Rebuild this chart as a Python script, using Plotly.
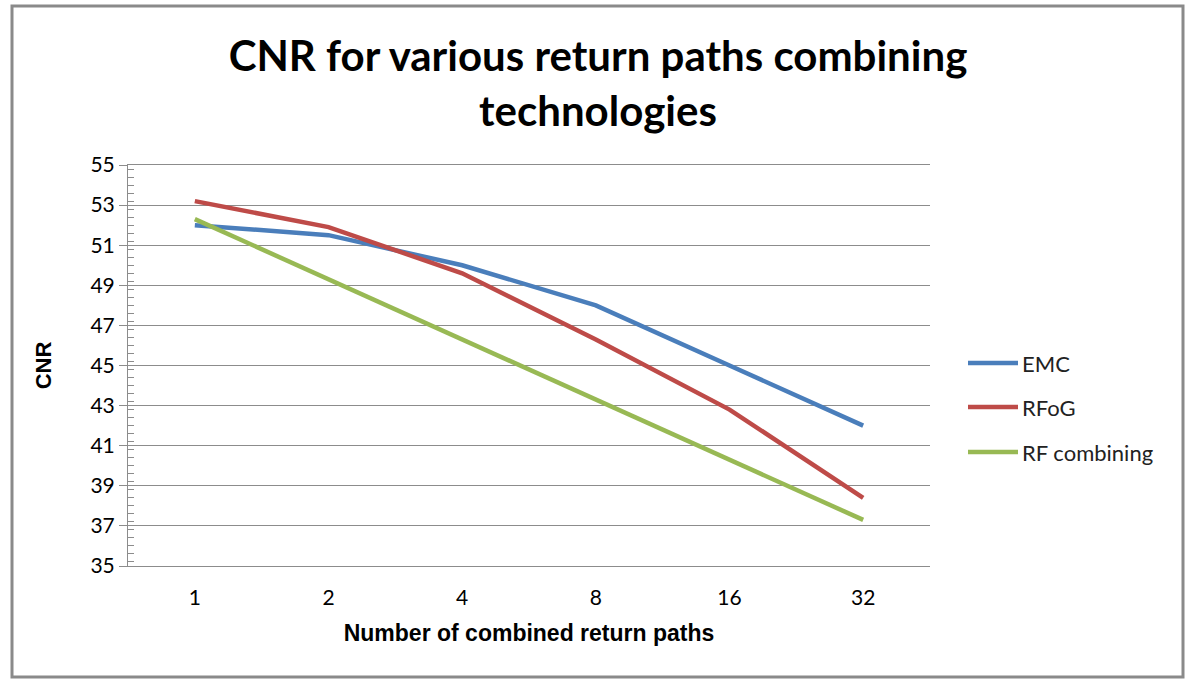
import plotly.graph_objects as go

categories = ["1", "2", "4", "8", "16", "32"]
emc = [52.0, 51.5, 50.0, 48.0, 45.0, 42.0]
rfog = [53.2, 51.9, 49.6, 46.3, 42.8, 38.4]
rf_combining = [52.3, 49.3, 46.3, 43.3, 40.3, 37.3]
y_ticks = [35, 37, 39, 41, 43, 45, 47, 49, 51, 53, 55]
series_names = ["EMC", "RFoG", "RF combining"]
series_values = [emc, rfog, rf_combining]
series_colors = ["#4A7EBB", "#BE4B48", "#98B954"]

W, H = 1192, 681
L, R, T, B = 128, 262, 165, 115
pw, ph = W - L - R, H - T - B


def px_x(x):
    return (x - L) / pw


def px_y(y):
    return 1 - (y - T) / ph


fig = go.Figure()
for name, vals, col in zip(series_names, series_values, series_colors):
    fig.add_trace(go.Scatter(x=categories, y=vals, name=name, mode="lines",
                             line=dict(color=col, width=4.5), showlegend=False))

fig.update_layout(
    width=W, height=H,
    margin=dict(l=L, r=R, t=T, b=B),
    paper_bgcolor="white", plot_bgcolor="white",
    title=dict(text="CNR for various return paths combining<br>technologies",
               xref="container", x=598 / W, xanchor="center",
               yref="container", y=1 - 71 / H, yanchor="middle",
               font=dict(family="Lato, Open Sans, sans-serif", size=42, color="black", weight="bold")),
    font=dict(family="Lato, Open Sans, sans-serif", size=18, color="black"),
    showlegend=False,
)

fig.update_xaxes(type="category", showgrid=False, showline=True, mirror=True,
                 linecolor="#8c8c8c", linewidth=1, ticks="",
                 tickfont=dict(size=21, family="Lato, Open Sans, sans-serif"),
                 ticklabelstandoff=13,
                 title=dict(text="Number of combined return paths", standoff=16,
                            font=dict(family="Liberation Sans, Arial, sans-serif", size=23, weight="bold")),
                 range=[-0.5, 5.5])
fig.update_yaxes(range=[35, 55], tickvals=y_ticks, showgrid=True, gridcolor="#8c8c8c", gridwidth=1,
                 showline=True, linecolor="#8c8c8c", linewidth=1,
                 ticks="outside", ticklen=8, tickcolor="#8c8c8c",
                 minor=dict(dtick=0.4, ticks="inside", ticklen=6, tickcolor="#8c8c8c", showgrid=False),
                 tickfont=dict(size=21, family="Lato, Open Sans, sans-serif"),
                 title=dict(text="CNR", standoff=32,
                            font=dict(family="Liberation Sans, Arial, sans-serif", size=22, weight="bold")),
                 zeroline=False)

# legend (drawn manually to match the long legend keys)
legend_y = [363, 407, 452]
for name, col, ly in zip(series_names, series_colors, legend_y):
    fig.add_shape(type="line", xref="paper", yref="paper",
                  x0=px_x(968), x1=px_x(1018), y0=px_y(ly), y1=px_y(ly),
                  line=dict(color=col, width=4.5))
    fig.add_annotation(xref="paper", yref="paper", x=px_x(1020), y=px_y(ly),
                       text=name, showarrow=False, xanchor="left", yanchor="middle",
                       font=dict(family="Lato, Open Sans, sans-serif", size=22, color="#222"))

# outer frame
fig.add_shape(type="rect", xref="paper", yref="paper",
              x0=px_x(12), x1=px_x(1183), y0=px_y(677), y1=px_y(6),
              line=dict(color="#8a8a8a", width=3), fillcolor="rgba(0,0,0,0)", layer="below")

fig.write_html("out.html", config={"displayModeBar": False},
               post_script="document.body.style.margin='0px';")
